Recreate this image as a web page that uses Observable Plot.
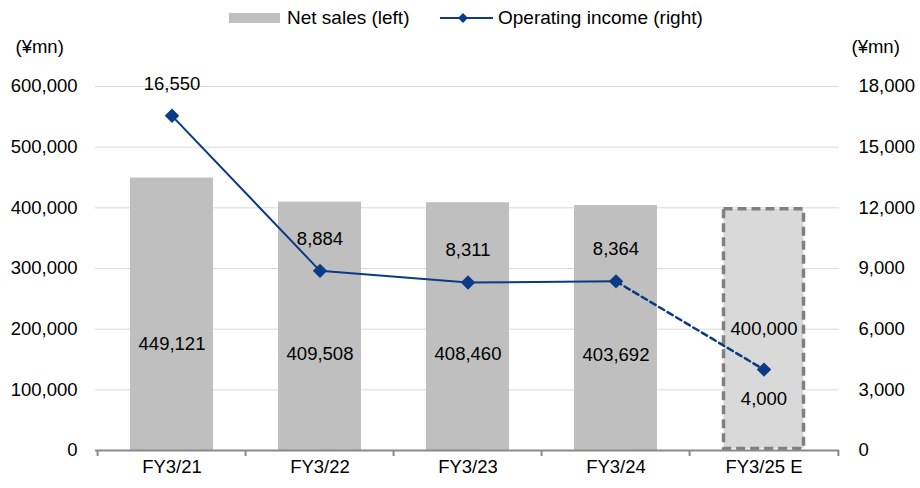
<!DOCTYPE html>
<html>
<head>
<meta charset="utf-8">
<script src="https://cdn.jsdelivr.net/npm/d3@7"></script>
<script src="https://cdn.jsdelivr.net/npm/@observablehq/plot@0.6"></script>
<style>
  html, body { margin: 0; padding: 0; background: #fff; }
  #wrap { position: relative; width: 920px; height: 488px; font-family: "Liberation Sans", Arial, sans-serif; }
  #legend { position: absolute; left: 0; top: 0; width: 920px; height: 36px; font-size: 19px; color: #000; }
  #legend .item { position: absolute; top: 6px; height: 24px; display: flex; align-items: center; white-space: nowrap; }
</style>
</head>
<body>
<div id="wrap">
  <div id="legend">
    <div class="item" style="left:229px;">
      <span style="display:inline-block;width:51px;height:10px;background:#bfbfbf;margin-right:7px;"></span>
      <span>Net sales (left)</span>
    </div>
    <div class="item" style="left:438px;">
      <svg width="56" height="14" style="margin-right:4px;"><line x1="2" y1="7" x2="55" y2="7" stroke="#0b3b85" stroke-width="2"/><path d="M25,2 L30,7 L25,12 L20,7 Z" fill="#0b3b85"/></svg>
      <span>Operating income (right)</span>
    </div>
  </div>
  <div id="chart"></div>
</div>
<script>
const categories = ["FY3/21", "FY3/22", "FY3/23", "FY3/24", "FY3/25 E"];
const netSales = [449121, 409508, 408460, 403692, 400000];
const operatingIncome = [16550, 8884, 8311, 8364, 4000];
const isForecast = [false, false, false, false, true];
const leftTicks = [0, 100000, 200000, 300000, 400000, 500000, 600000];
const rightTicks = [0, 3000, 6000, 9000, 12000, 15000, 18000];

const ratio = 600000 / 18000;
const data = categories.map((c, i) => ({cat: c, sales: netSales[i], oi: operatingIncome[i], oiY: operatingIncome[i] * ratio, fc: isForecast[i]}));
const actual = data.filter(d => !d.fc);
const forecast = data.filter(d => d.fc);
const lastActualIdx = isForecast.indexOf(true) - 1;
const fcLine = data.slice(lastActualIdx);
const fmt = d3.format(",");

const W = 920, H = 488, mL = 95, mR = 81, mT = 86, mB = 38;
const step = (W - mL - mR) / categories.length;
const blue = "#0b3b85";
const font = "18.5px";

const plot = Plot.plot({
  width: W, height: H,
  marginLeft: mL, marginRight: mR, marginTop: mT, marginBottom: mB,
  style: {fontFamily: "'Liberation Sans', Arial, sans-serif", fontSize: font, color: "#000", background: "transparent"},
  x: {type: "band", domain: categories, paddingInner: 0.44, paddingOuter: 0.22, align: 0.5, label: null},
  y: {domain: [0, 600000], label: null},
  marks: [
    Plot.ruleY(leftTicks.filter(t => t > 0), {stroke: "#d9d9d9", strokeWidth: 1}),
    Plot.barY(actual, {x: "cat", y: "sales", fill: "#bfbfbf"}),
    Plot.barY(forecast, {x: "cat", y: "sales", fill: "#d9d9d9", stroke: "#808080", strokeWidth: 3.5, strokeDasharray: "9,5", inset: 1.5}),
    Plot.ruleY([0], {stroke: "#898989", strokeWidth: 2}),
    Plot.ruleX(categories, {x: d => d, y1: 0, y2: 0, insetBottom: -6, dx: -step / 2, stroke: "#898989", strokeWidth: 2}),
    Plot.ruleX(categories.slice(-1), {x: d => d, y1: 0, y2: 0, insetBottom: -6, dx: step / 2, stroke: "#898989", strokeWidth: 2}),
    Plot.axisY(leftTicks, {anchor: "left", tickSize: 0, tickPadding: 18, tickFormat: fmt, fontSize: font, label: null}),
    Plot.axisY(rightTicks.map(v => v * ratio), {anchor: "right", tickSize: 0, tickPadding: 19, tickFormat: d => fmt(Math.round(d / ratio)), fontSize: font, label: null}),
    Plot.axisX(categories, {anchor: "bottom", tickSize: 0, tickPadding: 9, fontSize: font, label: null}),
    Plot.lineY(actual, {x: "cat", y: "oiY", stroke: blue, strokeWidth: 2}),
    Plot.lineY(fcLine, {x: "cat", y: "oiY", stroke: blue, strokeWidth: 2.5, strokeDasharray: "6,4"}),
    Plot.dot(data, {x: "cat", y: "oiY", symbol: "diamond2", fill: blue, r: 6.5}),
    Plot.text(actual, {x: "cat", y: d => d.sales * 0.39, text: d => fmt(d.sales), fontSize: font, fill: "#000"}),
    Plot.text(forecast, {x: "cat", y: d => d.sales * 0.5, text: d => fmt(d.sales), fontSize: font, fill: "#000"}),
    Plot.text(actual, {x: "cat", y: "oiY", text: d => fmt(d.oi), dy: -32, fontSize: font, fill: "#000"}),
    Plot.text(forecast, {x: "cat", y: "oiY", text: d => fmt(d.oi), dy: 29, fontSize: font, fill: "#000"}),
    Plot.text(["(¥mn)"], {frameAnchor: "top-left", dx: -80, dy: -39, textAnchor: "start", lineAnchor: "middle", fontSize: font, fill: "#000"}),
    Plot.text(["(¥mn)"], {frameAnchor: "top-right", dx: 12, dy: -39, textAnchor: "start", lineAnchor: "middle", fontSize: font, fill: "#000"})
  ]
});
document.getElementById("chart").appendChild(plot);
</script>
</body>
</html>
